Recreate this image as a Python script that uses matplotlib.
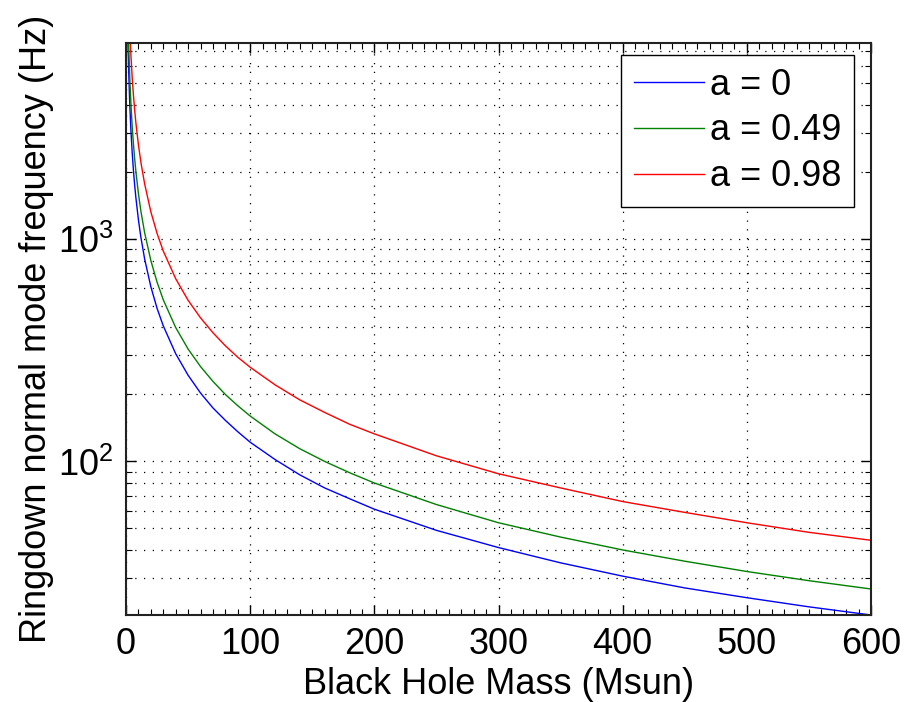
import matplotlib
matplotlib.use("Agg")
import matplotlib.pyplot as plt
from matplotlib.ticker import MultipleLocator, LogLocator, NullFormatter

plt.rcParams['font.family'] = ['Liberation Sans', 'DejaVu Sans']
plt.rcParams['mathtext.fontset'] = 'custom'
plt.rcParams['mathtext.rm'] = 'Liberation Sans'
plt.rcParams['mathtext.it'] = 'Liberation Sans'

mass = [1.5, 2, 3, 4, 5, 6, 7, 8, 10, 12, 15, 20, 25, 30, 40, 50, 60, 70, 80, 90,
        100, 120, 140, 160, 180, 200, 250, 300, 350, 400, 450, 500, 550, 600]
freq_a0 = [8130, 6100, 4070, 3050, 2440, 2030, 1740, 1525, 1220, 1017, 813, 610, 488, 407,
           305, 244, 203, 174, 153, 136, 122, 102, 87, 76, 68, 61, 49, 41, 35, 30.5,
           27, 24.4, 22.2, 20.4]
freq_a049 = [10700, 8000, 5330, 4000, 3200, 2670, 2290, 2000, 1600, 1333, 1067, 800, 640, 533,
             400, 320, 267, 229, 200, 178, 160, 133, 114, 100, 89, 80, 64, 53, 45.7, 40,
             35.6, 32, 29.1, 26.7]
freq_a098 = [17700, 13250, 8830, 6625, 5300, 4420, 3790, 3310, 2650, 2210, 1770, 1325, 1060, 883,
             663, 530, 442, 379, 331, 294, 265, 221, 189, 166, 147, 133, 106, 88, 76, 66,
             59, 53, 48, 44.2]
labels = ['a = 0', 'a = 0.49', 'a = 0.98']
colors = ['#0000ff', '#008000', '#ff0000']

fig = plt.figure(figsize=(9.14, 7.02), dpi=100)
ax = fig.add_axes([126/914, 1-615/702, (871-126)/914, (615-43)/702])

for y, lab, c in zip([freq_a0, freq_a049, freq_a098], labels, colors):
    ax.plot(mass, y, color=c, lw=1.0, label=lab)

ax.set_yscale('log')
ax.set_xlim(0, 600)
ax.set_ylim(20.4, 7600)

ax.xaxis.set_major_locator(MultipleLocator(100))
ax.xaxis.set_minor_locator(MultipleLocator(10))
ax.yaxis.set_major_locator(LogLocator(base=10))
ax.yaxis.set_minor_locator(LogLocator(base=10, subs=range(2, 10)))
ax.yaxis.set_minor_formatter(NullFormatter())

ax.tick_params(which='both', direction='in', top=True, right=True, labelsize=26, colors='black')
ax.tick_params(which='major', length=7, width=1.0, pad=9)
ax.tick_params(which='minor', length=4, width=0.8)

ax.grid(True, which='major', axis='x', color='black', linestyle=(0, (1, 6)), lw=0.9)
ax.grid(True, which='both', axis='y', color='black', linestyle=(0, (1, 6)), lw=0.9)

for s in ax.spines.values():
    s.set_linewidth(1.5)
    s.set_color('#222222')

ax.set_xlabel('Black Hole Mass (Msun)', fontsize=26, labelpad=3)
ax.set_ylabel('Ringdown normal mode frequency (Hz)', fontsize=26, labelpad=3)

leg = ax.legend(loc='upper right', bbox_to_anchor=(0.977, 0.979), borderaxespad=0,
                fontsize=26, handlelength=1.95, handletextpad=0.15, labelspacing=0.3,
                fancybox=False, framealpha=1, edgecolor='black', borderpad=0.35)
leg.get_frame().set_linewidth(1.0)

fig.savefig('out.png', dpi=100)
